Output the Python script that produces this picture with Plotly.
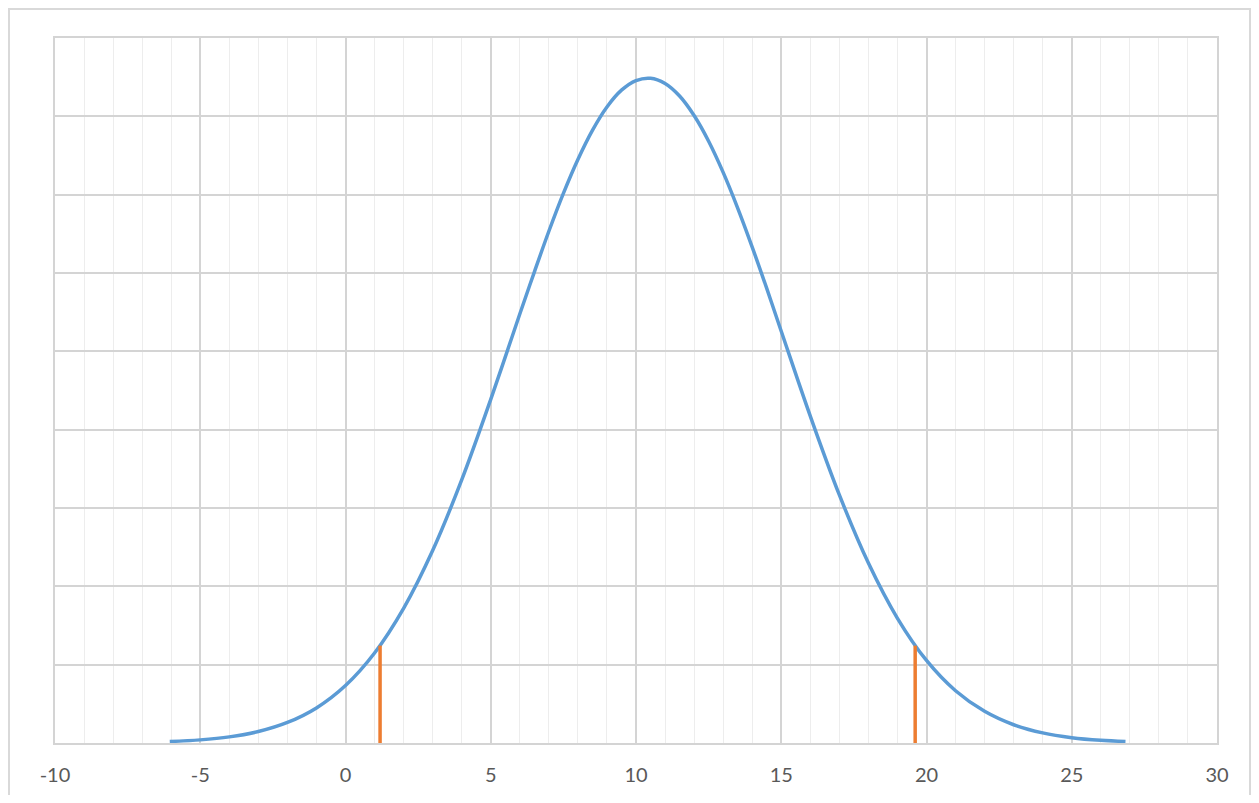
import plotly.graph_objects as go

# Curve points (x, density)
curve_x = [-6.05, -5, -4, -3, -2, -1, 0, 1, 2, 3, 4, 5, 6, 6.5, 7, 7.5, 8, 8.5, 9,
           9.5, 10, 10.5, 11, 11.5, 12, 12.5, 13, 13.5, 14, 14.5, 15, 16, 17, 18,
           19, 20, 21, 22, 23, 24, 25, 26, 26.85]
curve_y = [0.00019, 0.0004, 0.00078, 0.00146, 0.00262, 0.00448, 0.00734, 0.01149,
           0.01719, 0.02457, 0.03359, 0.04387, 0.05477, 0.06012, 0.06533, 0.07017,
           0.0745, 0.07822, 0.0812, 0.08334, 0.08457, 0.08486, 0.08419, 0.08259,
           0.0801, 0.07682, 0.07284, 0.06829, 0.06331, 0.05803, 0.05257, 0.04173,
           0.03167, 0.02297, 0.01592, 0.01054, 0.00667, 0.00404, 0.00233, 0.00129,
           0.00068, 0.00034, 0.00019]

# Orange markers (interval bounds)
bound_x = [1.19, 19.61]
bound_y = [0.01243, 0.01243]

x_tickvals = [-10, -5, 0, 5, 10, 15, 20, 25, 30]
x_ticktext = ["-10", "-5", "0", "5", "10", "15", "20", "25", "30"]

fig = go.Figure()
fig.add_trace(go.Scatter(x=curve_x, y=curve_y, mode="lines",
                         line=dict(color="#5B9BD5", width=3.5, shape="spline", smoothing=1.0),
                         showlegend=False, hoverinfo="skip"))
for bx, by in zip(bound_x, bound_y):
    fig.add_trace(go.Scatter(x=[bx, bx], y=[0, by], mode="lines",
                             line=dict(color="#ED7D31", width=3.5),
                             showlegend=False, hoverinfo="skip"))

# page has an 8px body margin: figure origin sits at page (8, 8)
W, H = 1243, 787
L, T = 47, 30
pw, ph = 1162, 705
R, B = W - L - pw, H - T - ph

fig.update_layout(
    width=W, height=H,
    margin=dict(l=L, r=R, t=T, b=B, autoexpand=False),
    paper_bgcolor="white", plot_bgcolor="white",
    font=dict(family="Lato, Open Sans, sans-serif", color="#595959", size=20),
    xaxis=dict(range=[-10, 30], tickvals=x_tickvals, ticktext=x_ticktext,
               showgrid=True, gridcolor="#D4D4D4", gridwidth=1.5,
               minor=dict(dtick=1, tick0=0, showgrid=True, gridcolor="#EDEDED", gridwidth=1),
               showline=True, linecolor="#D4D4D4", linewidth=2, mirror=True,
               zeroline=False, ticks="", ticklabelstandoff=13, fixedrange=True,
               automargin=False),
    yaxis=dict(range=[0, 0.09], dtick=0.01, showticklabels=False,
               showgrid=True, gridcolor="#D4D4D4", gridwidth=1.5,
               showline=True, linecolor="#D4D4D4", linewidth=2, mirror=True,
               zeroline=False, ticks="", fixedrange=True, automargin=False),
    shapes=[dict(type="rect", xref="paper", yref="paper",
                 x0=(1 - L) / pw, x1=(W - 1 - L) / pw,
                 y0=(ph + T - H - 30) / ph, y1=(ph + T - 1) / ph,
                 line=dict(color="#D9D9D9", width=2), fillcolor="rgba(0,0,0,0)",
                 layer="below")],
)

fig.write_html("out.html")
